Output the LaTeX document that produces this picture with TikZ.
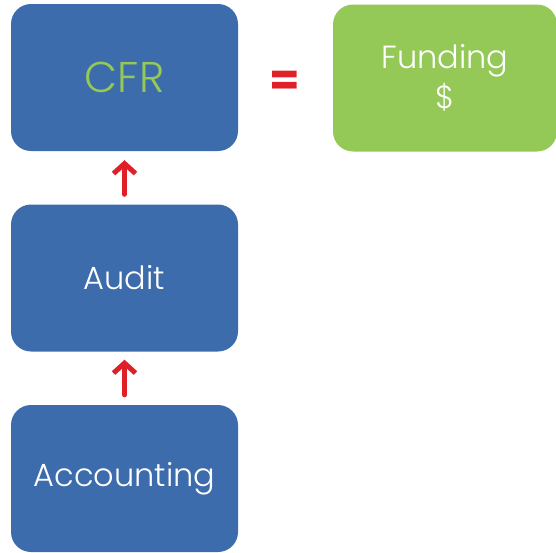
\documentclass[tikz,border=0pt]{standalone}
\usepackage{fontspec}
\setmainfont{Poppins}[UprightFont=* Light,BoldFont=* Bold]
\usetikzlibrary{arrows.meta}
\definecolor{boxblue}{RGB}{61,108,172}
\definecolor{boxgreen}{RGB}{149,201,87}
\definecolor{arrowred}{RGB}{224,32,40}
\tikzset{
  block/.style={rectangle,rounded corners=20pt,minimum width=227pt,minimum height=147pt,inner sep=0pt,align=center},
  upper/.style={arrowred,line width=5pt,line cap=round,-{Straight Barb[length=10pt,width=22pt,line width=5pt]}}
}
\begin{document}
\begin{tikzpicture}[x=1pt,y=-1pt]
\useasboundingbox (0,0) rectangle (556,552);
\node[block,fill=boxblue,text=boxgreen,font=\fontsize{43}{44}\selectfont] (cfr) at (124.5,77.5) {CFR};
\node[block,fill=boxblue,text=white,font=\fontsize{32}{32}\selectfont] (audit) at (124.5,278) {Audit};
\node[block,fill=boxblue,text=white,font=\fontsize{32}{32}\selectfont] (accounting) at (124.5,478.5) {Accounting};
\node[block,fill=boxgreen,text=white,minimum width=224pt,font=\fontsize{32}{40}\selectfont] (funding) at (445,78) {Funding\\\$};
\node[text=arrowred,font=\fontsize{44}{44}\bfseries] (equals) at (285,83) {=};
% arrows
\draw[upper,shorten <=10pt,shorten >=9pt] (audit) -- (cfr);
\draw[upper,shorten <=10pt,shorten >=8pt] (accounting) -- (audit);
\end{tikzpicture}
\end{document}
